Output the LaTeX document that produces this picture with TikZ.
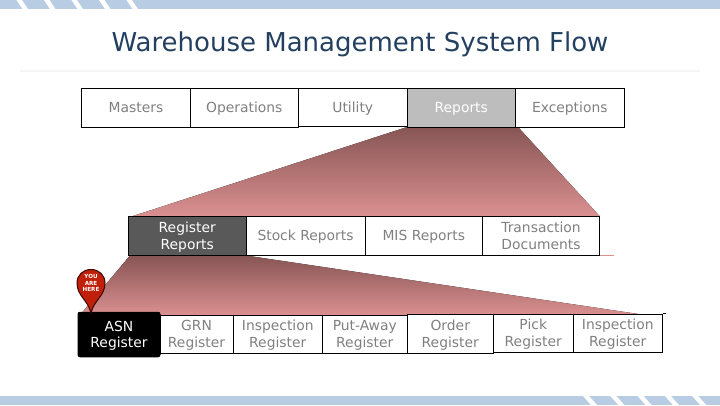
\documentclass[tikz,border=0pt]{standalone}
\usepackage{fontspec}
\setmainfont{DejaVu Sans}
\definecolor{barblue}{HTML}{B8CCE4}
\definecolor{titleblue}{HTML}{244061}
\definecolor{labelgrey}{HTML}{808080}
\definecolor{funneltop}{HTML}{875555}
\definecolor{funnelbottom}{HTML}{DB9090}
\definecolor{pinred}{HTML}{C01F0A}
\tikzset{
  sized/.style 2 args={minimum width=#1*0.75pt, minimum height=#2*0.75pt},
  menubox/.style={draw=black, line width=0.75pt, fill=white, inner sep=0pt, align=center,
    text=labelgrey, font=\fontsize{10.4pt}{12.5pt}\selectfont},
  oneline/.style={menubox, text height=10.2pt, text depth=3pt},
  twolines/.style={menubox, text height=22pt, text depth=1.9pt},
  funnel/.style={top color=funneltop, bottom color=funnelbottom, draw=none},
  stripe/.style={fill=white, draw=none}
}
\begin{document}
\begin{tikzpicture}[x=0.75pt,y=-0.75pt]
\useasboundingbox (0,0) rectangle (720,405);
\fill [white] (0,0) rectangle (720,405);
% bars
\fill [barblue] (0,0) rectangle (720,9);
\fill [barblue] (0,396) rectangle (720,405);
\foreach \i in {0,1,2,3,4} {
  \fill [stripe] (16.5+27.5*\i,0) -- (22+27.5*\i,0) -- (28+27.5*\i,9) -- (22.5+27.5*\i,9) -- cycle;
  \fill [stripe] (583+27.3*\i,396) -- (589+27.3*\i,396) -- (597+27.3*\i,405) -- (591+27.3*\i,405) -- cycle;
}
\fill [black!4] (20,70) rectangle (700,72);
\node (title) at (360,44) [text=titleblue, font=\fontsize{19.5pt}{23pt}\selectfont] {Warehouse Management System Flow};
% funnels
\fill [funnel] (407,127) -- (518,127) -- (599.5,216) -- (133,216) -- cycle;
\fill [funnel] (130,255.5) -- (246,255.5) -- (645,315) -- (80,315) -- cycle;
\draw [funnelbottom, line width=0.75pt] (599.5,255.5) -- (614,255.5);
% first row
\node (masters) at (136,107.75) [oneline, sized={109}{38.5}] {Masters};
\node (operations) at (244.25,107.75) [oneline, sized={107.5}{38.5}] {Operations};
\node (utility) at (352.75,107.25) [oneline, sized={109.5}{37.5}] {Utility};
\node (reports) at (461.25,107.75) [oneline, sized={107.5}{38.5}, fill=black!26, text=white] {Reports};
\node (exceptions) at (569.75,107.75) [oneline, sized={109.5}{38.5}] {Exceptions};
% second row
\node (registerreports) at (187.25,235.75) [twolines, sized={117.5}{39.5}, fill=black!65, text=white] {Register\\Reports};
\node (stockreports) at (305.5,235.75) [oneline, sized={119}{39.5}] {Stock Reports};
\node (misreports) at (423.75,235.75) [oneline, sized={117.5}{39.5}] {MIS Reports};
\node (transaction) at (541,235.75) [twolines, sized={117}{39.5}] {Transaction\\Documents};
% third row
\node (grn) at (196.5,334) [twolines, sized={73}{38}] {GRN\\Register};
\node (inspection) at (277.75,334) [twolines, sized={89}{38}] {Inspection\\Register};
\node (putaway) at (364.75,334) [twolines, sized={85}{38}] {Put-Away\\Register};
\node (order) at (450.25,333.75) [twolines, sized={86}{39.5}] {Order\\Register};
\node (pick) at (533.25,333.25) [twolines, sized={80}{38.5}] {Pick\\Register};
\node (inspectiontwo) at (617.75,333.25) [twolines, sized={89}{38.5}] {Inspection\\Register};
\node (asn) at (119,334.5) [twolines, sized={82}{44.5}, fill=black, text=white, rounded corners=1.5pt] {ASN\\Register};
\draw [line width=0.75pt] (inspectiontwo.north east) -- ++(3,0);
% pin
\fill [pinred, draw=black!70!pinred, line width=0.75pt] (91,313) .. controls (88,300) and (77,296) .. (77,283)
  .. controls (77,275) and (83,269.5) .. (91,269.5)
  .. controls (99,269.5) and (105,275) .. (105,283)
  .. controls (105,296) and (94,300) .. (91,313) -- cycle;
\node (pinlabel) at (91,283) [text=white, align=center, inner sep=0pt, font=\fontsize{4.2pt}{4.9pt}\bfseries\selectfont] {YOU\\ARE\\HERE};
\end{tikzpicture}
\end{document}
